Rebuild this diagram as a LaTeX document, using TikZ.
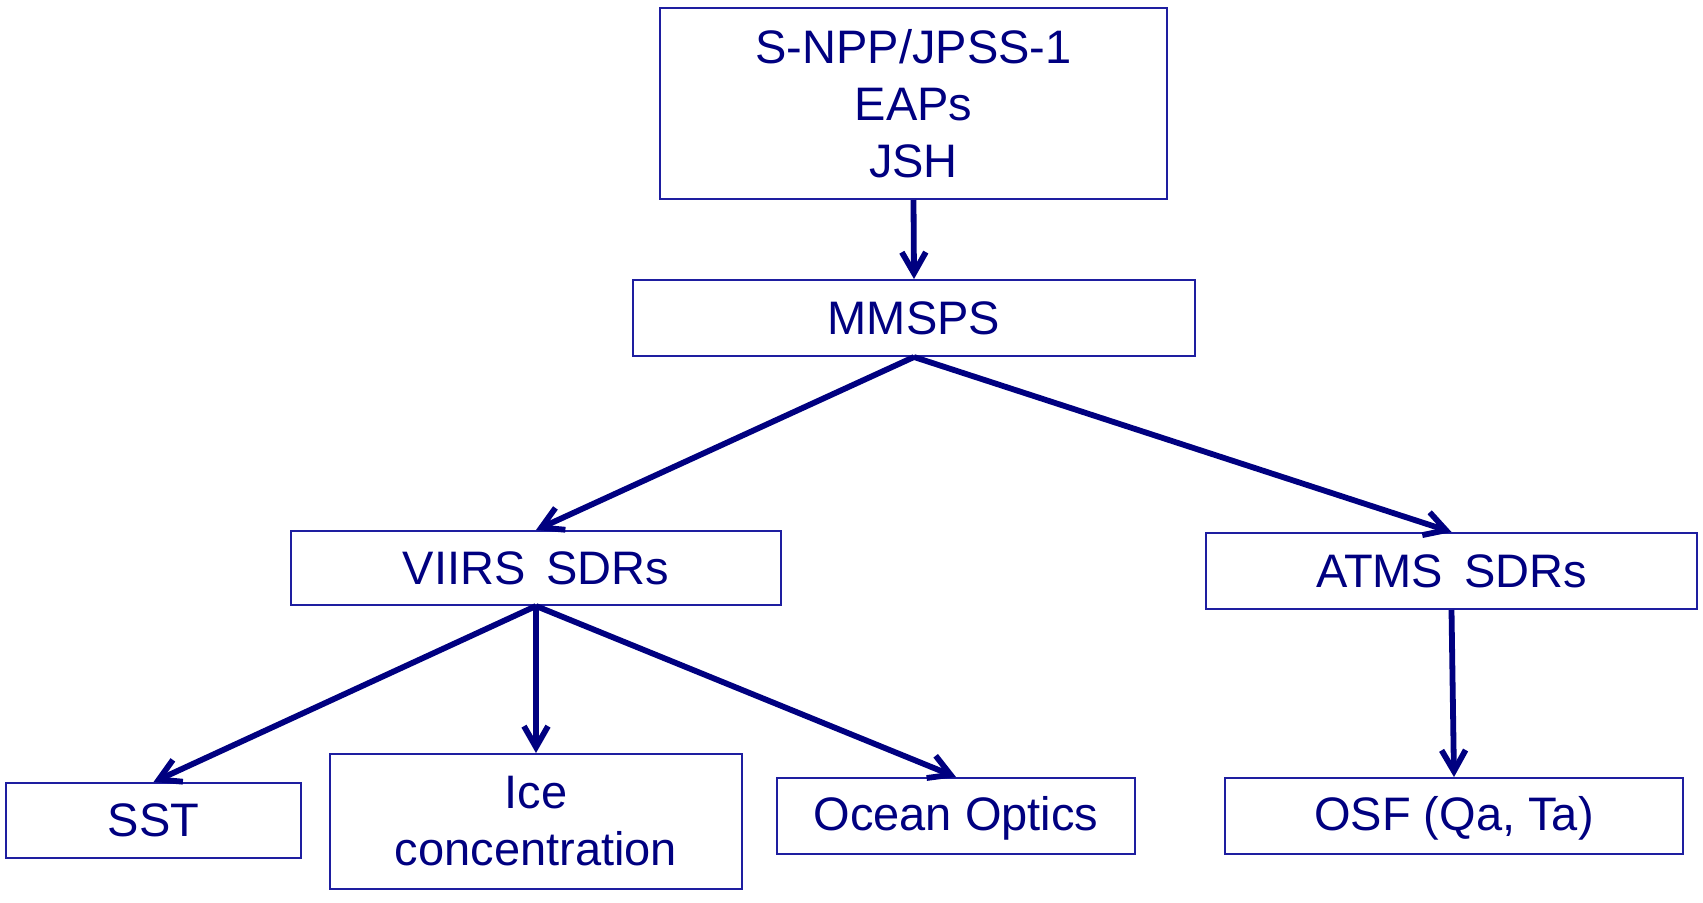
\documentclass[tikz,border=0pt]{standalone}
\usepackage{fontspec}
\setmainfont{Liberation Sans}
\usetikzlibrary{arrows.meta}
\definecolor{navytext}{RGB}{0,0,128}
\definecolor{boxline}{RGB}{30,30,160}
\begin{document}
\begin{tikzpicture}[x = 0.5pt, y = -0.5pt,
		box/.style = {draw = boxline, line width = 1pt, inner sep = 0pt, align = center,
			text = navytext, font = \fontsize{23.5}{28.5}\selectfont},
		flow/.style = {draw = navytext, line width = 2.9pt,
			-{Straight Barb[length = 10.5pt, width = 12pt, line width = 2.9pt]}}]
		\useasboundingbox (0, 0) rectangle (1703, 902);
		\node[box, minimum width = 253.5pt, minimum height = 95.5pt] (src) at (913.5, 103.5) {S-NPP/JPSS-1\\EAPs\\JSH};
		\node[box, minimum width = 281pt, minimum height = 38pt] (mmsps) at (914, 318) {MMSPS};
		%%%%%%%%%
		\node[box, minimum width = 245pt, minimum height = 37pt] (viirs) at (536, 568) {VIIRS\, SDRs};
		\node[box, minimum width = 245.5pt, minimum height = 38pt] (atms) at (1451.5, 571) {ATMS\, SDRs};
		%%%%%%%%%
		\node[box, minimum width = 147.5pt, minimum height = 37.5pt] (sst) at (153.5, 820.5) {SST};
		\node[box, minimum width = 206pt, minimum height = 67.5pt] (ice) at (536, 821.5) {Ice\\concentration};
		\node[box, minimum width = 179pt, minimum height = 38pt, text depth = 3pt] (ocean) at (956, 816) {Ocean Optics};
		\node[box, minimum width = 229pt, minimum height = 38pt, text depth = 3pt] (osf) at (1454, 816) {OSF (Qa, Ta)};
		%%%%%%%%%
		\draw[flow] (src.south) -- (mmsps.north);
		\draw[flow] (mmsps.south) -- (viirs.north);
		\draw[flow] (mmsps.south) -- (atms.north);
		\draw[flow] (viirs.south) -- (sst.north);
		\draw[flow] (viirs.south) -- (ice.north);
		\draw[flow] (viirs.south) -- (ocean.north);
		\draw[flow] (atms.south) -- (osf.north);
	\end{tikzpicture}
\end{document}
